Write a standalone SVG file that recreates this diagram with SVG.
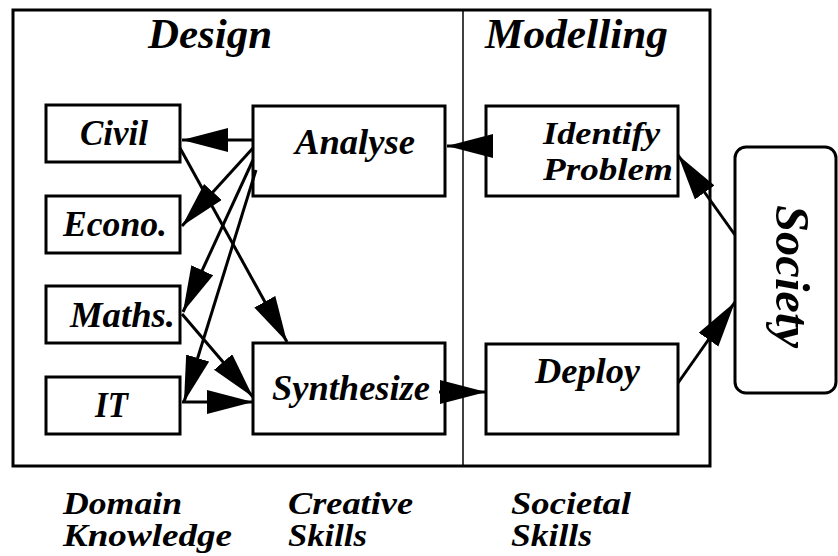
<svg xmlns="http://www.w3.org/2000/svg" width="838" height="556" viewBox="0 0 838 556">
<style>
.box{fill:#fff;stroke:#000;stroke-width:3}
.t{font-family:"Liberation Serif","Times New Roman",serif;font-weight:bold;font-style:italic;fill:#000}
.n{font-size:35px}
.s{font-size:31px}
.h{font-size:43px}
.b{font-size:31px}
.c{fill:none;stroke:#000;stroke-width:3;marker-end:url(#ah)}
</style>
<defs>
<marker id="ah" markerUnits="userSpaceOnUse" markerWidth="48" markerHeight="26" refX="46" refY="12" orient="auto">
<path d="M0,0 L46,12 L0,24 z" fill="#000"/>
</marker>
</defs>
<rect width="838" height="556" fill="#fff"/>
<g id="frame">
<rect x="13" y="10" width="697" height="456" fill="none" stroke="#000" stroke-width="3"/>
<line x1="463" y1="10" x2="463" y2="466" stroke="#000" stroke-width="1.5"/>
<text class="t h" x="148" y="48" textLength="124" lengthAdjust="spacingAndGlyphs">Design</text>
<text class="t h" x="485" y="48" textLength="183" lengthAdjust="spacingAndGlyphs">Modelling</text>
</g>
<g id="civil"><rect class="box" x="46" y="105" width="134" height="57"/><text class="t n" x="80" y="145" textLength="68" lengthAdjust="spacingAndGlyphs">Civil</text></g>
<g id="econo"><rect class="box" x="46" y="196" width="134" height="57"/><text class="t n" x="63" y="236" textLength="104" lengthAdjust="spacingAndGlyphs">Econo.</text></g>
<g id="maths"><rect class="box" x="46" y="286" width="134" height="57"/><text class="t n" x="70" y="327" textLength="105" lengthAdjust="spacingAndGlyphs">Maths.</text></g>
<g id="it"><rect class="box" x="46" y="377" width="134" height="57"/><text class="t n" x="95" y="417" textLength="33" lengthAdjust="spacingAndGlyphs">IT</text></g>
<g id="analyse"><rect class="box" x="253" y="106" width="192" height="90"/><text class="t n" x="295" y="154" textLength="120" lengthAdjust="spacingAndGlyphs">Analyse</text></g>
<g id="synthesize"><rect class="box" x="253" y="343" width="192" height="91"/><text class="t n" x="272" y="400" textLength="158" lengthAdjust="spacingAndGlyphs">Synthesize</text></g>
<g id="identify"><rect class="box" x="486" y="106" width="192" height="90"/><text class="t s" x="543" y="144" textLength="117" lengthAdjust="spacingAndGlyphs">Identify</text><text class="t s" x="543" y="180" textLength="130" lengthAdjust="spacingAndGlyphs">Problem</text></g>
<g id="deploy"><rect class="box" x="486" y="344" width="192" height="90"/><text class="t n" x="535" y="383" textLength="105" lengthAdjust="spacingAndGlyphs">Deploy</text></g>
<g id="society"><rect class="box" x="735" y="147" width="101" height="246" rx="11"/><text class="t" font-size="48" transform="translate(776,276.5) rotate(90)" text-anchor="middle" textLength="143" lengthAdjust="spacingAndGlyphs">Society</text></g>
<g id="connectors">
<line class="c" x1="253" y1="140" x2="182" y2="140"/>
<line class="c" x1="486" y1="146" x2="447" y2="146"/>
<line class="c" x1="253" y1="148" x2="182" y2="226"/>
<line class="c" x1="253" y1="160" x2="183" y2="312"/>
<line class="c" x1="256" y1="170" x2="184" y2="402"/>
<line class="c" x1="180" y1="148" x2="287" y2="342"/>
<line class="c" x1="182" y1="314" x2="253" y2="397"/>
<line class="c" x1="182" y1="402" x2="253" y2="402"/>
<line class="c" x1="439" y1="392" x2="486" y2="392"/>
<line class="c" x1="678" y1="383" x2="735" y2="302"/>
<line class="c" x1="735" y1="235" x2="678" y2="155"/>
</g>
<g id="labels">
<text class="t b" x="63" y="514" textLength="119" lengthAdjust="spacingAndGlyphs">Domain</text>
<text class="t b" x="63" y="546" textLength="169" lengthAdjust="spacingAndGlyphs">Knowledge</text>
<text class="t b" x="288" y="514" textLength="125" lengthAdjust="spacingAndGlyphs">Creative</text>
<text class="t b" x="288" y="546" textLength="79" lengthAdjust="spacingAndGlyphs">Skills</text>
<text class="t b" x="511" y="514" textLength="120" lengthAdjust="spacingAndGlyphs">Societal</text>
<text class="t b" x="511" y="546" textLength="81" lengthAdjust="spacingAndGlyphs">Skills</text>
</g>
</svg>
